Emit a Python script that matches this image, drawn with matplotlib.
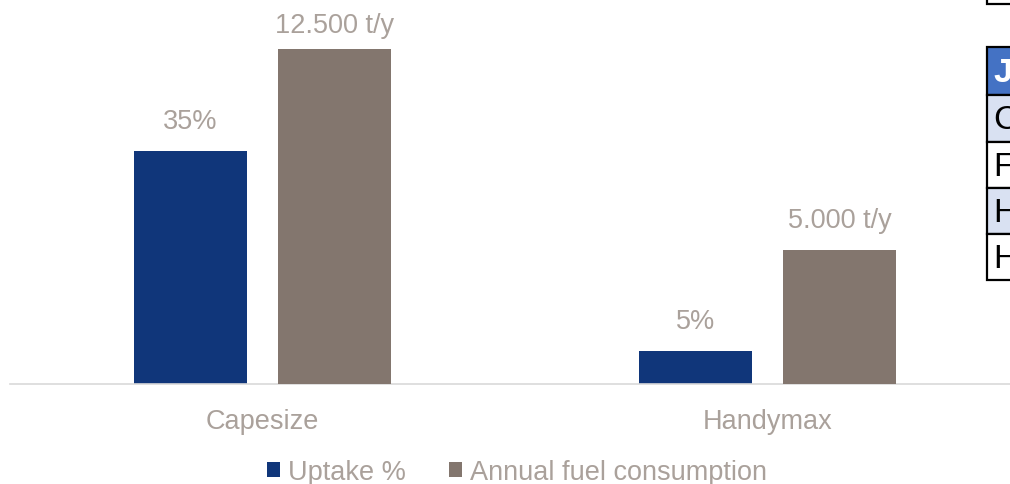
import matplotlib.pyplot as plt
from matplotlib.patches import Rectangle

plt.rcParams['font.family'] = ['Liberation Sans', 'DejaVu Sans']

# data
categories = ['Capesize', 'Handymax']
uptake = [35, 5]                 # %
fuel = [12500, 5000]             # t/y
uptake_labels = ['35%', '5%']
fuel_labels = ['12.500 t/y', '5.000 t/y']

table_letters = ['J', 'C', 'F', 'H', 'H']

blue = '#10367a'
grey = '#83766e'
txt = '#aaa19b'
fs = 19.5

W, H = 1010, 485
fig = plt.figure(figsize=(W / 100, H / 100), dpi=100)

ax = fig.add_axes([10 / W, 100 / H, 1010 / W, 383 / H])
ax2 = ax.twinx()

x = list(range(len(categories)))
bw = 0.224
off = 0.143
b1 = ax.bar([i - off for i in x], uptake, bw, color=blue, label='Uptake %')
b2 = ax2.bar([i + off for i in x], fuel, bw, color=grey, label='Annual fuel consumption')

ax.set_xlim(-0.5, 1.5)
ax.set_ylim(0, 57.5)
ax2.set_ylim(0, 14290)

for a in (ax, ax2):
    for s in ('top', 'right', 'left'):
        a.spines[s].set_visible(False)
    a.set_yticks([])
ax2.spines['bottom'].set_visible(False)
ax.spines['bottom'].set_color('#d9d9d9')
ax.spines['bottom'].set_linewidth(1.2)
ax.set_xticks(x)
ax.set_xticklabels(categories, fontsize=fs, color=txt)
ax.tick_params(axis='x', length=0, pad=17)

# data labels, pushed down a little when they would leave the plot
top_px = ax.transAxes.transform((0, 1))[1]
def put_labels(a, xs, vals, labels):
    for xi, v, lab in zip(xs, vals, labels):
        ypx = a.transData.transform((xi, v))[1]
        dy = min(23, top_px - 31 - ypx)
        a.annotate(lab, (xi, v), xytext=(0, dy), textcoords='offset pixels',
                   ha='center', va='baseline', fontsize=fs, color=txt)

put_labels(ax, [i - off for i in x], uptake, uptake_labels)
put_labels(ax2, [i + off for i in x], fuel, fuel_labels)

fig.legend(handles=[b1, b2], loc='center', bbox_to_anchor=(517 / W, 12 / H),
           ncol=2, frameon=False, fontsize=fs, labelcolor=txt,
           handlelength=0.48, handleheight=0.52, handletextpad=0.3,
           columnspacing=1.6)

# partly visible table at the right edge
def px(x0, y0, w, h):
    return (x0 / W, 1 - (y0 + h) / H), w / W, h / H

row_top = [48, 96, 143, 189, 235]
row_h = [48, 47, 46, 46, 46]
fills = ['#4472c4', '#d9e1f2', 'white', '#d9e1f2', 'white']
for i, (yt, hh, fc, letter) in enumerate(zip(row_top, row_h, fills, table_letters)):
    xy, w, h = px(987, yt, 40, hh)
    fig.patches.append(Rectangle(xy, w, h, transform=fig.transFigure,
                                 facecolor=fc, edgecolor='black', linewidth=1.6))
    fig.text(993 / W, 1 - (yt + hh / 2 + 1) / H, letter, fontsize=24.5,
             color='white' if i == 0 else 'black',
             fontweight='bold' if i == 0 else 'normal', va='center', ha='left')
xy, w, h = px(987, -10, 40, 15)
fig.patches.append(Rectangle(xy, w, h, transform=fig.transFigure,
                             facecolor='white', edgecolor='black', linewidth=1.6))

fig.savefig('out.png', dpi=100)
